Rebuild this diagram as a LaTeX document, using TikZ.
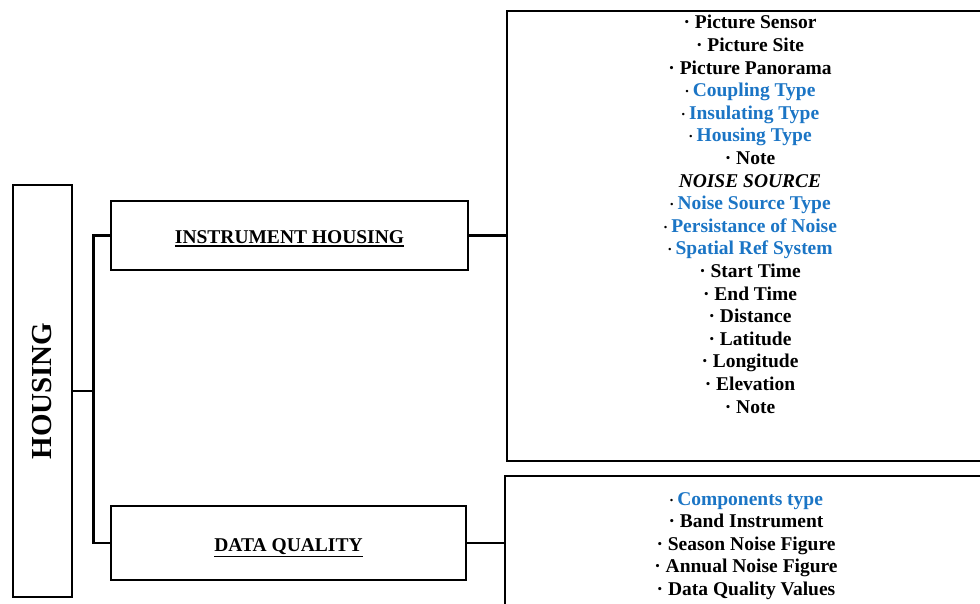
\documentclass[tikz,border=0pt]{standalone}
\usepackage{fontspec}
\setmainfont{Liberation Serif}
\definecolor{hblue}{RGB}{27,117,197}
\tikzset{
  frame/.style={draw=black, line width=2.8pt, rectangle, inner sep=0pt},
  link/.style={draw=black, line width=2.6pt},
  item/.style={anchor=base, inner sep=0pt, font=\fontsize{19.5}{22}\selectfont\bfseries},
  head/.style={font=\fontsize{19.5}{22}\selectfont\bfseries, text height=16pt, text depth=0pt},
}
\newcommand{\kitem}[1]{·\ #1}
\newcommand{\bitem}[1]{{\fontsize{15}{15}\selectfont·}\,\textcolor{hblue}{#1}}
\newcommand{\myul}[1]{\vtop{\hbox{#1}\kern1.6pt\hrule height 1.5pt}}
\begin{document}
\begin{tikzpicture}[x=1pt,y=-1pt]
\useasboundingbox (0,0) rectangle (980,604);
\clip (0,0) rectangle (980,604);
% boxes
\node[frame, minimum width=59pt, minimum height=412pt] (housing) at (42.5,391) {};
\node[rotate=90, inner sep=0pt, font=\fontsize{29}{30}\selectfont\bfseries] (housingtext) at (housing.center) {HOUSING};
\node[frame, head, minimum width=357pt, minimum height=69pt] (ih) at (289.5,235.5) {\myul{INSTRUMENT HOUSING}};
\node[frame, head, minimum width=355pt, minimum height=74pt] (dq) at (288.5,543) {\myul{DATA QUALITY}};
\node[frame, minimum width=488pt, minimum height=450pt] (list1) at (751,236) {};
\node[frame, minimum width=490pt, minimum height=144pt] (list2) at (750,548) {};
% connectors
\path (housing.east) ++(20,0) coordinate (j);
\draw[link] (housing.east) -- (j);
\draw[link] (ih.west) -| (j) |- (dq.west);
\draw[link] (ih.east) -- (ih.east -| list1.west);
\draw[link] (dq.east) -- (dq.east -| list2.west);
% list 1
\foreach \t [count=\i] in {
  {\kitem{Picture Sensor}},
  {\kitem{Picture Site}},
  {\kitem{Picture Panorama}},
  {\bitem{Coupling Type}},
  {\bitem{Insulating Type}},
  {\bitem{Housing Type}},
  {\kitem{Note}},
  {\itshape NOISE SOURCE},
  {\bitem{Noise Source Type}},
  {\bitem{Persistance of Noise}},
  {\bitem{Spatial Ref System}},
  {\kitem{Start Time}},
  {\kitem{End Time}},
  {\kitem{Distance}},
  {\kitem{Latitude}},
  {\kitem{Longitude}},
  {\kitem{Elevation}},
  {\kitem{Note}}}
  \node[item] (a\i) at (750, 29+22.59*\i-22.59) {\t};
% list 2
\foreach \t [count=\i] in {
  {\bitem{Components type}},
  {\kitem{Band Instrument}},
  {\kitem{Season Noise Figure}},
  {\kitem{Annual Noise Figure}},
  {\kitem{Data Quality Values}}}
  \node[item] (b\i) at (746, 505+22.5*\i-22.5) {\t};
\end{tikzpicture}
\end{document}
